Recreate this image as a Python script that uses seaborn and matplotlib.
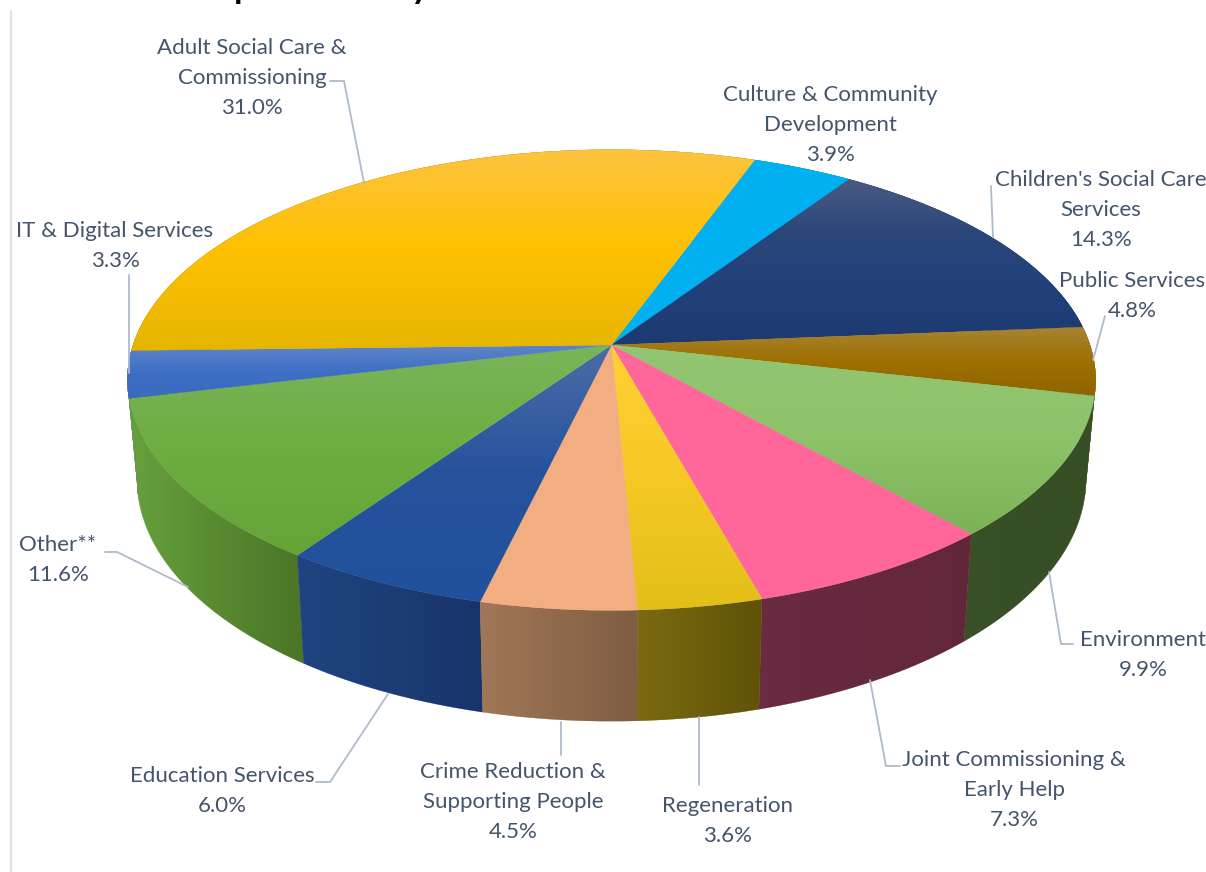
import numpy as np
import matplotlib
matplotlib.use("Agg")
import matplotlib.pyplot as plt
from matplotlib.colors import LinearSegmentedColormap
from matplotlib.path import Path
from matplotlib.transforms import Bbox
import seaborn as sns

# Budget share per service area, clockwise from the top of the pie
services = [
    "Culture & Community\nDevelopment",
    "Children's Social Care\nServices",
    "Public Services",
    "Environment",
    "Joint Commissioning &\nEarly Help",
    "Regeneration",
    "Crime Reduction &\nSupporting People",
    "Education Services",
    "Other**",
    "IT & Digital Services",
    "Adult Social Care &\nCommissioning",
]
shares = [3.9, 14.3, 4.8, 9.9, 7.3, 3.6, 4.5, 6.0, 11.6, 3.3, 31.0]

# Shading of the top faces (top to bottom) and of the rim (left to right)
top_shades = [
    ["#00B0F0", "#00B0F0"],
    ["#4A5A82", "#2A4679", "#21407A", "#1C3A70"],
    ["#A88434", "#9E7000", "#8F6500"],
    ["#93C572", "#8CC268", "#7CB257"],
    ["#FF6699", "#FF6699"],
    ["#FFD033", "#F5C825", "#E2BE18"],
    ["#F2AE80", "#F2AE80"],
    ["#4A6DA8", "#26529C", "#22509C"],
    ["#7AB45A", "#6DAD40", "#65A339"],
    ["#5F85C8", "#3F6FC4", "#3A6ABF"],
    ["#FCC340", "#FFC000", "#E5B500"],
]
rim_shades = [
    ["#006A90", "#006A90"],
    ["#14284A", "#14284A"],
    ["#5F4300", "#5F4300"],
    ["#395026", "#374D24"],
    ["#6A2A42", "#62263A"],
    ["#7A6A10", "#5F5208"],
    ["#A07757", "#7F5C42"],
    ["#1F4480", "#17346A"],
    ["#66A03C", "#4A7526"],
    ["#2A4F90", "#2A4F90"],
    ["#8F7000", "#8F7000"],
]

# Centre of each label block on the canvas
label_anchor = [
    (830, 125), (1101, 210), (1132, 296), (1143, 655), (1014, 790),
    (728, 821), (513, 802), (222, 791), (58, 560), (115, 246), (252, 78),
]
# Leader lines from label to slice
leaders = [
    None,
    [(991, 186), (993, 237)],
    [(1105, 316), (1093, 360)],
    [(1073, 644), (1061, 644), (1049, 572)],
    [(900, 766), (886, 766), (870, 680)],
    [(699, 785), (699, 717)],
    [(561, 755), (561, 722)],
    [(316, 782), (330, 782), (388, 694)],
    [(105, 552), (117, 552), (188, 587)],
    [(129, 275), (129, 373)],
    [(330, 81), (344, 81), (364, 183)],
]

sns.set_theme(style="white")
plt.rcParams["font.family"] = ["Lato", "DejaVu Sans"]

W, H = 1206, 872
fig = plt.figure(figsize=(W / 100, H / 100), dpi=100, facecolor="white")
ax = fig.add_axes([0, 0, 1, 1])
ax.set_xlim(0, W)
ax.set_ylim(H, 0)
ax.axis("off")

# Perspective tilt of the pie's top plane
CX, CY = 611.5, 345.0
AX, BY, TILT = 478.5, 225.0, 0.152
START_DEG = 20.0


def top_point(theta):
    u, v = np.sin(theta), -np.cos(theta)
    w = 1 - TILT * v
    return CX + AX * u / w, CY + BY * v / w


def base_point(theta):
    x, y = top_point(theta)
    return CX + 0.98 * (x - CX), CY + 1.05 * (y - CY) + 97.6


def shade_polygon(pts, colors, axis, zorder):
    """Fill a polygon with a linear gradient, one pixel-aligned band at a time."""
    pts = np.asarray(pts)
    path = Path(np.vstack([pts, pts[:1]]), closed=True)
    cmap = LinearSegmentedColormap.from_list("band", colors)
    lo, hi = pts[:, axis].min(), pts[:, axis].max()
    other_lo, other_hi = pts[:, 1 - axis].min() - 1, pts[:, 1 - axis].max() + 1
    edges = np.arange(np.floor(lo), np.ceil(hi) + 1, 1.0)
    for a, b in zip(edges[:-1], edges[1:]):
        if axis == 1:
            box = Bbox([[other_lo, a], [other_hi, b]])
        else:
            box = Bbox([[a, other_lo], [b, other_hi]])
        band = path.clip_to_bbox(box, inside=True)
        if band is None or len(band.vertices) < 3:
            continue
        c = cmap((0.5 * (a + b) - lo) / max(hi - lo, 1))
        ax.fill(band.vertices[:, 0], band.vertices[:, 1], color=c, lw=0.15, zorder=zorder)


palette_top = [sns.color_palette(s) for s in top_shades]
palette_rim = [sns.color_palette(s) for s in rim_shades]

fractions = np.array(shares) / np.sum(shares)
bounds = np.deg2rad(START_DEG) + 2 * np.pi * np.concatenate([[0], np.cumsum(fractions)])

# Rim first, back slices before front ones
order = sorted(range(len(shares)),
               key=lambda i: -np.cos(0.5 * (bounds[i] + bounds[i + 1])))
for i in order:
    th = np.linspace(bounds[i], bounds[i + 1], 80)
    upper = np.column_stack(top_point(th))
    lower = np.column_stack(base_point(th))
    shade_polygon(np.vstack([upper, lower[::-1]]), palette_rim[i], 0, 2)

# Top faces
for i in range(len(shares)):
    th = np.linspace(bounds[i], bounds[i + 1], 120)
    arc = np.column_stack(top_point(th))
    shade_polygon(np.vstack([[CX, CY], arc]), palette_top[i], 1, 3)

# Leader lines and labels
for line in leaders:
    if line is not None:
        xs, ys = zip(*line)
        ax.plot(xs, ys, color="#AEBBCB", lw=1.3, zorder=4, solid_joinstyle="miter")

for name, val, (x, y) in zip(services, shares, label_anchor):
    ax.text(x, y, f"{name}\n{val:.1f}%", ha="center", va="center", ma="center",
            fontsize=16, color="#44546A", linespacing=1.62, zorder=5)

# Frame rule down the left side and the descenders of the heading above the crop
ax.plot([11, 11], [11, H], color="#DDE3EC", lw=1.6, zorder=1)
ax.text(244, -12, "p", ha="center", va="center", fontsize=25, fontweight="bold", color="black")
ax.text(420, -12, "y", ha="center", va="center", fontsize=25, fontweight="bold", color="black")

fig.savefig("out.png", dpi=100, facecolor="white")
